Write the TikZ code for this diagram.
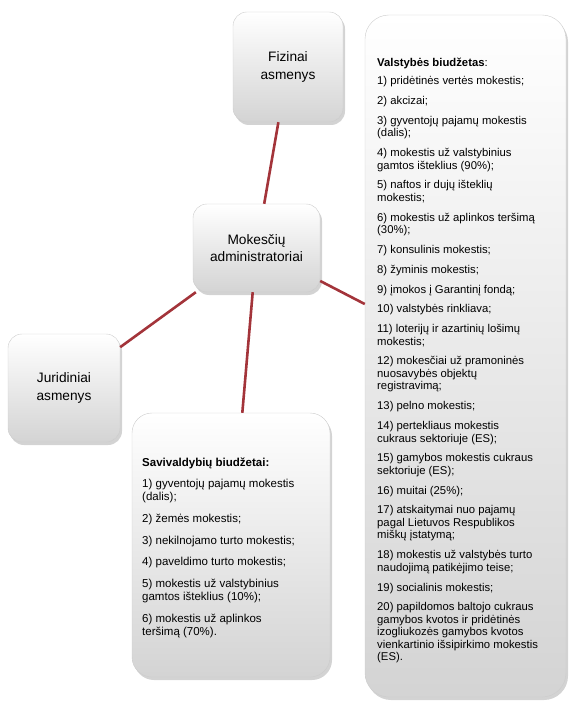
\documentclass[tikz,border=0pt]{standalone}
\usepackage{fontspec}
\setmainfont{Liberation Sans}
\usetikzlibrary{shadows}
\definecolor{linkred}{RGB}{163,52,58}
\begin{document}
\begin{tikzpicture}
[x=1pt,y=-1pt,
 box/.style={rectangle,rounded corners=14pt,draw=gray!40,top color=white,bottom color=gray!34,
   drop shadow={opacity=.35,shadow xshift=2pt,shadow yshift=-3pt}},
 boxtext/.style={align=center,font=\fontsize{13.7}{17.5}\selectfont},
 listtext/.style={align=left,inner sep=0pt,anchor=north west},
 link/.style={draw=linkred,line width=2.6pt}]
  \useasboundingbox (0,0) rectangle (569,703);

  % boxes
  \node[box,boxtext,minimum width=110pt,minimum height=110pt] (fiz) at (288,67) {Fizinai\\asmenys};
  \node[box,boxtext,minimum width=127pt,minimum height=88pt] (mok) at (256.5,248) {Mokesčių\\administratoriai};
  \node[box,boxtext,minimum width=112pt,minimum height=108pt] (jur) at (64,388) {Juridiniai\\asmenys};
  \node[box,rounded corners=24pt,minimum width=201pt,minimum height=682pt] (val) at (465.5,356) {};
  \node[box,rounded corners=20pt,minimum width=198pt,minimum height=264pt] (sav) at (231,545) {};

  % links
  \draw[link] (fiz) -- (mok);
  \draw[link] (mok) -- (jur);
  \draw[link] (mok) -- (sav);
  \draw[link] (mok) -- (val);

  % valstybes biudzetas
  \node[listtext,font=\fontsize{11.3}{12.5}\selectfont] (valtxt) at (377,58) {%
    \textbf{Valstybės biudžetas}:\\[5.5pt]
    1) pridėtinės vertės mokestis;\\[7.3pt]
    2) akcizai;\\[7.3pt]
    3) gyventojų pajamų mokestis\\(dalis);\\[7.3pt]
    4) mokestis už valstybinius\\gamtos išteklius (90\%);\\[7.3pt]
    5) naftos ir dujų išteklių\\mokestis;\\[7.3pt]
    6) mokestis už aplinkos teršimą\\(30\%);\\[7.3pt]
    7) konsulinis mokestis;\\[7.3pt]
    8) žyminis mokestis;\\[7.3pt]
    9) įmokos į Garantinį fondą;\\[7.3pt]
    10) valstybės rinkliava;\\[7.3pt]
    11) loterijų ir azartinių lošimų\\mokestis;\\[7.3pt]
    12) mokesčiai už pramoninės\\nuosavybės objektų\\registravimą;\\[7.3pt]
    13) pelno mokestis;\\[7.3pt]
    14) pertekliaus mokestis\\cukraus sektoriuje (ES);\\[7.3pt]
    15) gamybos mokestis cukraus\\sektoriuje (ES);\\[7.3pt]
    16) muitai (25\%);\\[7.3pt]
    17) atskaitymai nuo pajamų\\pagal Lietuvos Respublikos\\miškų įstatymą;\\[7.3pt]
    18) mokestis už valstybės turto\\naudojimą patikėjimo teise;\\[7.3pt]
    19) socialinis mokestis;\\[7.3pt]
    20) papildomos baltojo cukraus\\gamybos kvotos ir pridėtinės\\izogliukozės gamybos kvotos\\vienkartinio išsipirkimo mokestis\\(ES).};

  % savivaldybiu biudzetai
  \node[listtext,font=\fontsize{11.5}{13}\selectfont] (savtxt) at (142,458) {%
    \textbf{Savivaldybių biudžetai:}\\[8pt]
    1) gyventojų pajamų mokestis\\(dalis);\\[9pt]
    2) žemės mokestis;\\[8.5pt]
    3) nekilnojamo turto mokestis;\\[8.5pt]
    4) paveldimo turto mokestis;\\[8.5pt]
    5) mokestis už valstybinius\\gamtos išteklius (10\%);\\[9pt]
    6) mokestis už aplinkos\\teršimą (70\%).};
\end{tikzpicture}
\end{document}
